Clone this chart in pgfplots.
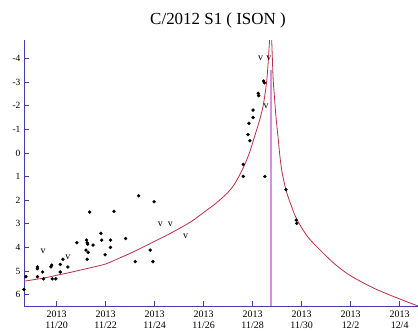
\documentclass[border=0pt]{standalone}
\usepackage{pgfplots}
\pgfplotsset{compat=1.18}
\usepackage{fontspec}
\setmainfont{Liberation Serif}
\definecolor{axisblue}{RGB}{70,60,170}
\definecolor{curvered}{RGB}{185,45,70}
\definecolor{perimag}{RGB}{212,145,226}
\definecolor{vgray}{RGB}{85,85,85}
\begin{document}
\begin{tikzpicture}[x=1bp,y=1bp]
\useasboundingbox (0,0) rectangle (418,331);
\begin{axis}[
  at={(24bp,25bp)}, anchor=south west,
  width=394bp, height=266bp, scale only axis,
  xmin=18.67, xmax=34.75, ymin=-4.79, ymax=6.48, y dir=reverse,
  axis x line*=bottom, axis y line*=left,
  axis line style={axisblue, line width=0.9pt, -},
  tick align=inside, major tick length=5bp,
  tick style={axisblue, line width=0.9pt},
  xtick={20,22,24,26,28,30,32,34},
  xticklabels={{2013\\11/20},{2013\\11/22},{2013\\11/24},{2013\\11/26},{2013\\11/28},{2013\\11/30},{2013\\12/2},{2013\\12/4}},
  xticklabel style={align=center, font=\fontsize{10}{11}\selectfont, text=black, yshift=-1.5bp},
  ytick={-4,-3,-2,-1,0,1,2,3,4,5,6},
  yticklabel style={font=\fontsize{9.5}{10}\selectfont, text=black},
  /pgf/number format/assume math mode=true,
  clip=true,
]
% perihelion line
\addplot[draw=perimag, color=perimag, line width=2bp, line cap=butt, mark=none] table {
x y
28.77 -3.5
28.77 6.48
};
% model curve, pre-perihelion branch
\addplot[curvered, line width=0.8pt, smooth, tension=0.5] coordinates {
(18.67,5.43) (19.5,5.29) (20.0,5.18) (20.5,5.07) (21.0,4.95) (21.5,4.83)
(22.0,4.70) (22.5,4.48) (23.0,4.25) (23.5,4.0) (24.0,3.74) (24.5,3.48)
(25.0,3.2) (25.5,2.90) (26.0,2.52) (26.5,2.13) (27.0,1.66) (27.3,1.25)
(27.62,0.62) (27.85,0.05) (28.02,-0.5) (28.2,-1.1) (28.3,-1.45) (28.43,-2.0)
(28.56,-2.9) (28.62,-3.6) (28.66,-4.25) (28.70,-4.9) (28.745,-5.6)
};
% post-perihelion branch
\addplot[curvered, line width=0.8pt, smooth, tension=0.5] coordinates {
(28.745,-5.6) (28.78,-4.75) (28.81,-3.9) (28.84,-3.1) (28.89,-2.4) (28.94,-1.7) (28.98,-1.25)
(29.05,-0.55) (29.11,0.1) (29.2,0.8) (29.36,1.55) (29.55,2.15) (29.8,2.8)
(30.25,3.55) (30.75,4.1) (31.35,4.7) (32.0,5.2) (33.0,5.75) (34.0,6.18) (34.75,6.48)
};
% observations
\addplot[only marks, mark=*, mark size=1.5bp, black] coordinates {
(18.67,5.78) (18.75,5.24) (19.22,4.82) (19.22,4.90) (19.22,5.24) (19.43,5.04)
(19.47,5.33) (19.77,4.82) (19.80,4.75) (19.82,5.33) (19.97,5.33) (20.15,5.04)
(20.15,4.72) (20.26,4.50) (20.46,4.83) (20.83,3.80) (21.22,3.69) (21.25,3.80)
(21.27,3.86) (21.20,4.11) (21.29,4.21) (21.25,4.50) (21.35,2.50) (21.49,3.90)
(21.81,3.40) (21.84,3.69) (21.98,4.31) (22.20,3.69) (22.20,4.00) (22.34,2.47)
(22.82,3.62) (23.21,4.60) (23.35,1.81) (23.98,2.06) (23.82,4.11) (23.93,4.60)
(27.62,0.99) (28.50,0.99) (27.62,0.48) (28.45,-3.05) (28.48,-2.98) (28.23,-2.53)
(28.25,-2.43) (28.02,-1.82) (28.02,-1.51) (27.85,-1.26) (27.81,-0.78) (27.89,-0.52)
(29.36,1.55) (29.78,2.84) (29.80,2.98)
};
% upper limits (v)
\addplot[only marks, mark=text, text mark={\fontsize{10}{10}\selectfont v}, vgray] coordinates {
(19.45,4.18) (20.46,4.43) (24.24,3.0) (24.64,3.0) (25.27,3.52)
(28.33,-4.01) (28.66,-4.01) (28.55,-2.0)
};
\end{axis}
\node[font=\fontsize{17}{17}\selectfont] at (218,311) {C/2012 S1 ( ISON )};
\end{tikzpicture}
\end{document}
